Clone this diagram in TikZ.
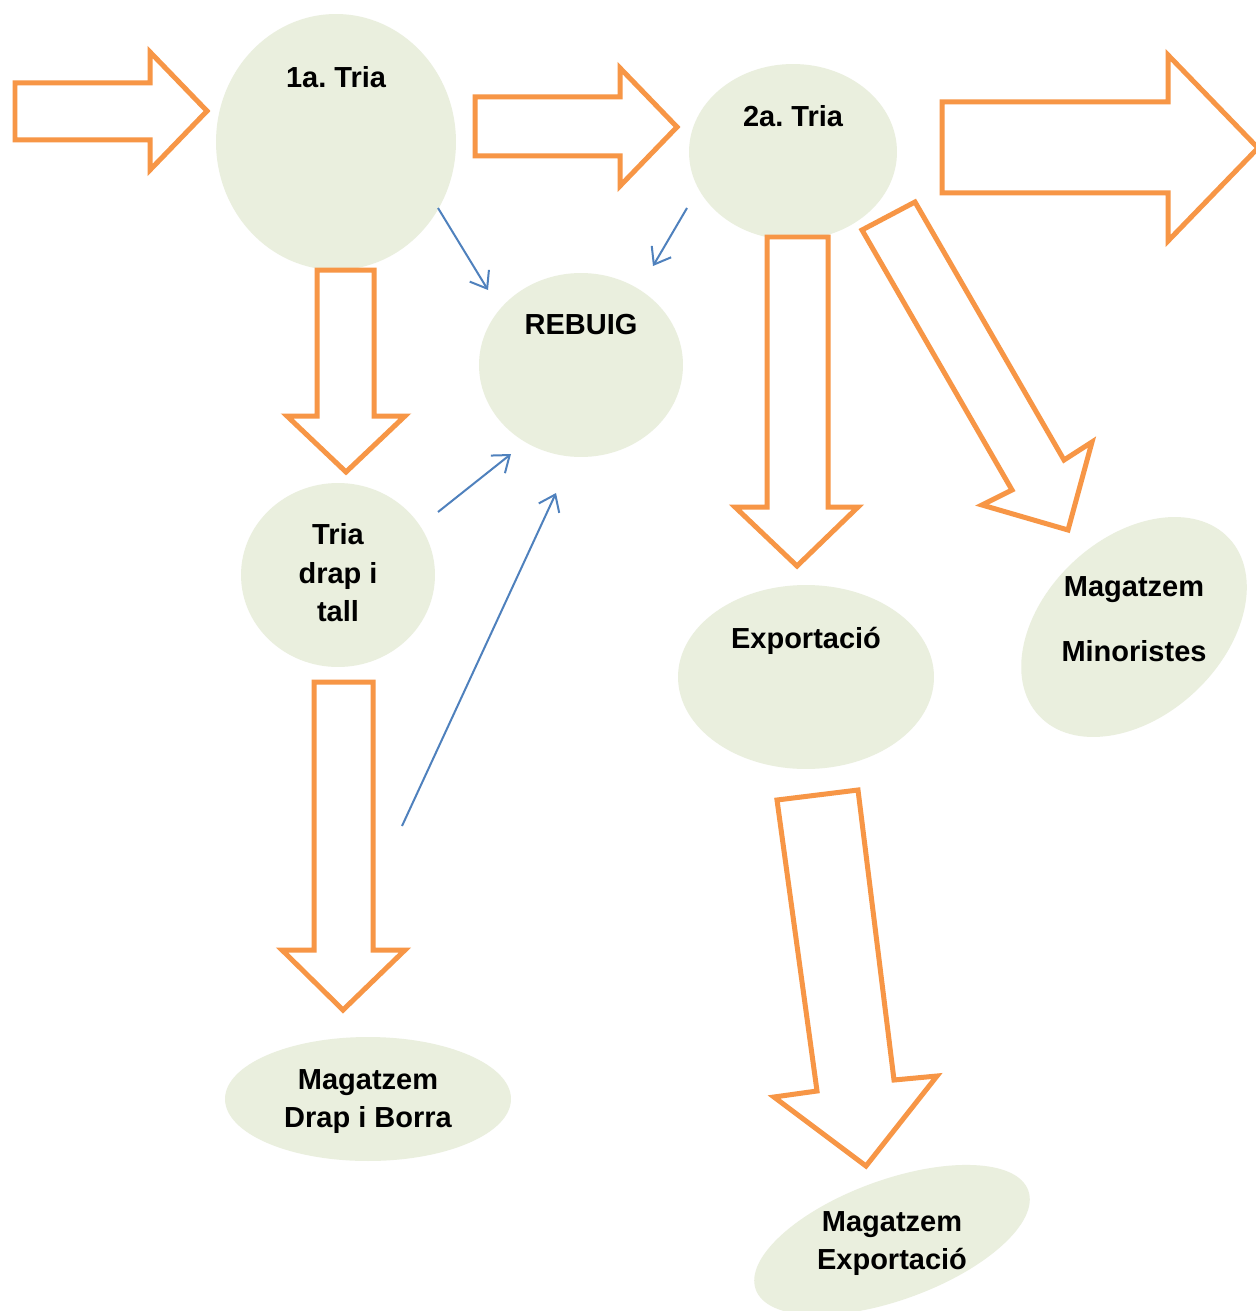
\documentclass[tikz,border=0pt]{standalone}
\usepackage{fontspec}
\setmainfont{Liberation Sans}
\usetikzlibrary{shapes.geometric,arrows.meta}
\definecolor{ellfill}{RGB}{234,239,222}
\definecolor{orangeC}{RGB}{247,150,70}
\definecolor{blueC}{RGB}{79,129,189}
\tikzset{
  ell/.style={ellipse, fill=ellfill, draw=none, inner sep=0pt},
  lbl/.style={font=\fontsize{16.5}{20}\selectfont\bfseries\frenchspacing, align=center, inner sep=0pt},
  blockarrow/.style={draw=orangeC, line width=0.1cm, fill=white, line join=miter},
  rejarrow/.style={draw=blueC, line width=0.04cm, -{Straight Barb[length=0.3cm,width=0.45cm,line width=0.04cm]}}
}
\begin{document}
\begin{tikzpicture}[x=0.02cm,y=-0.02cm]
\useasboundingbox (0,0) rectangle (1256,1311);
\fill[white] (0,0) rectangle (1256,1311);
% ellipses
\node[ell, minimum width=4.8cm, minimum height=5.12cm] (t1) at (336,142) {};
\node[ell, minimum width=4.08cm, minimum height=3.68cm] (reb) at (581,365) {};
\node[ell, minimum width=4.16cm, minimum height=3.52cm] (t2) at (793,152) {};
\node[ell, minimum width=3.88cm, minimum height=3.68cm] (tdt) at (338,575) {};
\node[ell, minimum width=5.12cm, minimum height=3.68cm] (exp) at (806,677) {};
\node[ell, minimum width=5.2cm, minimum height=3.56cm, rotate=43] (min) at (1134,627) {};
\node[ell, minimum width=5.72cm, minimum height=2.48cm] (mdb) at (368,1099) {};
\node[ell, minimum width=5.8cm, minimum height=2.4cm, rotate=20] (mex) at (892,1240) {};
% labels
\node[lbl] (t1l) at (336,77) {1a. Tria};
\node[lbl] (rebl) at (581,325) {REBUIG};
\node[lbl] (t2l) at (793,116) {2a. Tria};
\node[lbl] (tdtl1) at (338,534) {Tria};
\node[lbl] (tdtl2) at (338,576) {drap i};
\node[lbl] (tdtl3) at (338,611) {tall};
\node[lbl] (expl) at (806,641) {Exportació};
\node[lbl] (minl1) at (1134,590) {Magatzem};
\node[lbl] (minl2) at (1134,651) {Minoristes};
\node[lbl] (mdbl1) at (368,1083) {Magatzem};
\node[lbl] (mdbl2) at (368,1120) {Drap i Borra};
\node[lbl] (mexl1) at (892,1225) {Magatzem};
\node[lbl] (mexl2) at (892,1262) {Exportació};
% block arrows
\draw[blockarrow] (15,83) -- (150,83) -- (150,52) -- (207,111) -- (150,170) -- (150,140) -- (15,140) -- cycle;
\draw[blockarrow] (475,97) -- (620,97) -- (620,68) -- (677,127) -- (620,186) -- (620,156) -- (475,156) -- cycle;
\draw[blockarrow] (942,102) -- (1168,102) -- (1168,55) -- (1258,148) -- (1168,241) -- (1168,193) -- (942,193) -- cycle;
\draw[blockarrow] (317,270) -- (374,270) -- (374,416) -- (405,416) -- (346,472) -- (287,416) -- (317,416) -- cycle;
\draw[blockarrow] (314,682) -- (373,682) -- (373,950) -- (405,950) -- (343,1010) -- (282,950) -- (314,950) -- cycle;
\draw[blockarrow] (767,237) -- (828,237) -- (828,507) -- (858,507) -- (797,566) -- (735,507) -- (767,507) -- cycle;
\draw[blockarrow] (862,230) -- (915,202) -- (1064,460) -- (1092,442) -- (1068,530) -- (982,505) -- (1012,490) -- cycle;
\draw[blockarrow] (777,800) -- (858,790) -- (894,1080) -- (937,1076) -- (866,1166) -- (774,1097) -- (817,1091) -- cycle;
% reject arrows
\coordinate (r1s) at (438,208); \coordinate (r1e) at (488,290);
\coordinate (r2s) at (687,208); \coordinate (r2e) at (653,266);
\coordinate (r3s) at (438,512); \coordinate (r3e) at (511,454);
\coordinate (r4s) at (402,826); \coordinate (r4e) at (556,493);
\draw[rejarrow] (r1s) -- (r1e);
\draw[rejarrow] (r2s) -- (r2e);
\draw[rejarrow] (r3s) -- (r3e);
\draw[rejarrow] (r4s) -- (r4e);
\end{tikzpicture}
\end{document}
